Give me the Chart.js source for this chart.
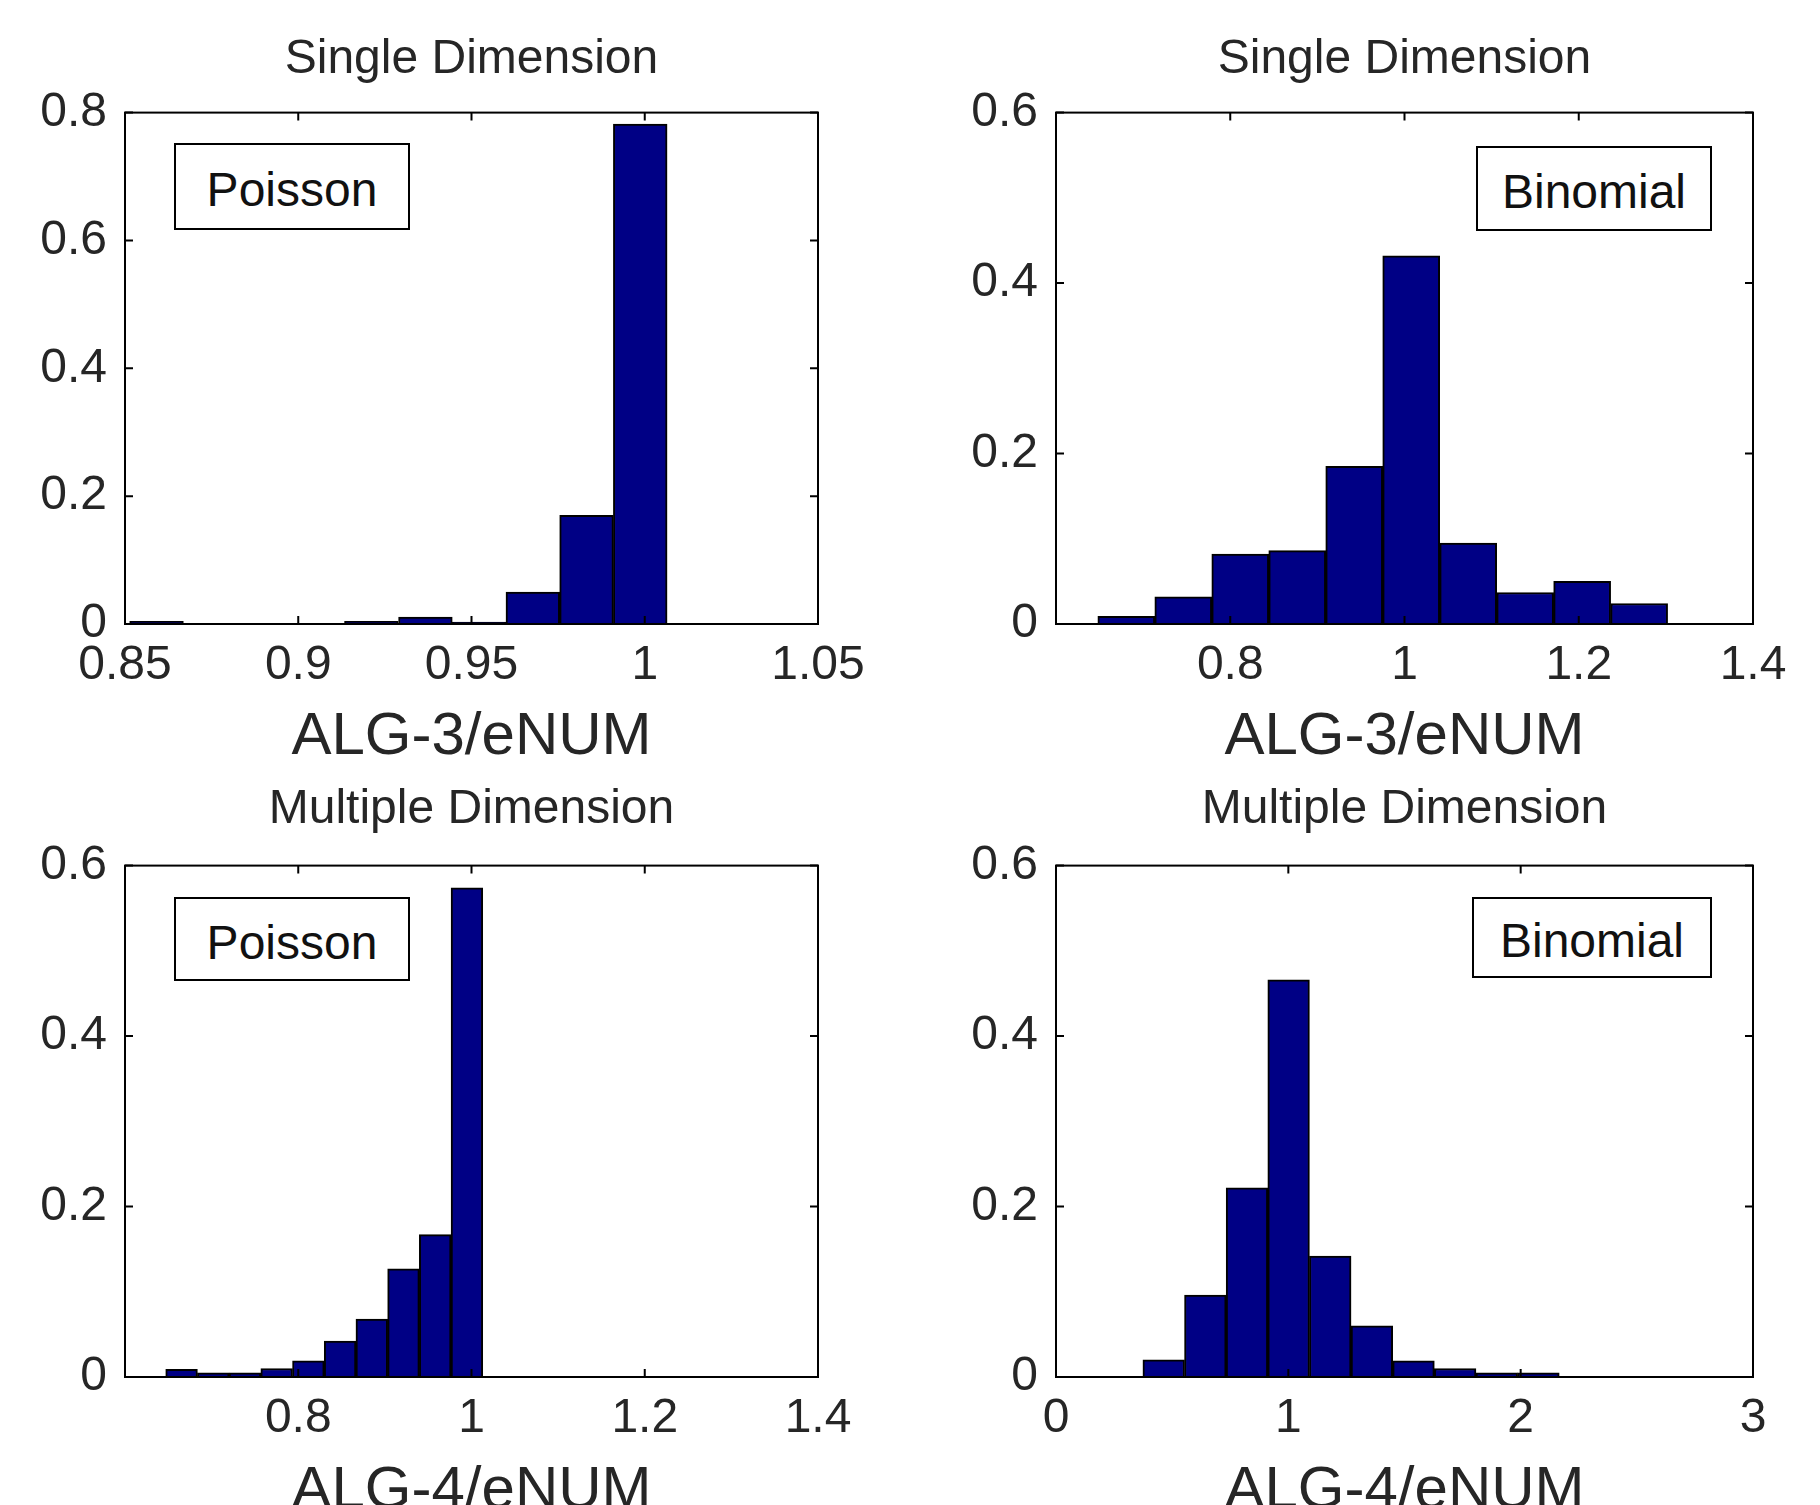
<!DOCTYPE html>
<html>
<head>
<meta charset="utf-8">
<title>ALG / eNUM histograms</title>
<script src="https://cdn.jsdelivr.net/npm/chart.js@4.4.1/dist/chart.umd.min.js"></script>
<style>
  html, body { margin: 0; padding: 0; background: #fff; overflow: hidden; }
  #page { position: relative; width: 1820px; height: 1505px; overflow: hidden; background: #fff; }
  .panel { position: absolute; }
  .panel canvas { display: block; }
  .legend-box {
    position: absolute;
    box-sizing: border-box;
    border: 2px solid #000;
    background: #fff;
    color: #111;
    font: 48px "Liberation Sans", Arial, sans-serif;
    padding-top: 6px;
    display: flex;
    align-items: center;
    justify-content: center;
  }
</style>
</head>
<body>
<div id="page">
  <div class="panel" style="left:0;top:0"><canvas id="c1" width="910" height="790"></canvas></div>
  <div class="panel" style="left:910px;top:0"><canvas id="c2" width="910" height="790"></canvas></div>
  <div class="panel" style="left:0;top:752px"><canvas id="c3" width="910" height="800"></canvas></div>
  <div class="panel" style="left:910px;top:752px"><canvas id="c4" width="910" height="800"></canvas></div>

  <div class="legend-box" style="left:174px;top:143px;width:236px;height:87px">Poisson</div>
  <div class="legend-box" style="left:1476px;top:146px;width:236px;height:85px">Binomial</div>
  <div class="legend-box" style="left:174px;top:897px;width:236px;height:84px">Poisson</div>
  <div class="legend-box" style="left:1472px;top:897px;width:240px;height:81px">Binomial</div>
</div>

<script>
// bin centres and relative frequencies
var p1Centers = [0.8591, 0.8746, 0.8901, 0.9056, 0.9211, 0.9367, 0.9522, 0.9677, 0.9832, 0.9987];
var p1Values = [0.004, 0, 0, 0, 0.004, 0.011, 0.003, 0.05, 0.17, 0.782];

var p2Centers = [0.6807, 0.7461, 0.8115, 0.8769, 0.9423, 1.0077, 1.0731, 1.1385, 1.2039, 1.2693];
var p2Values = [0.009, 0.032, 0.082, 0.086, 0.185, 0.432, 0.095, 0.037, 0.050, 0.024];

var p3Centers = [0.6653, 0.7019, 0.7385, 0.7751, 0.8117, 0.8483, 0.8849, 0.9215, 0.9581, 0.9947];
var p3Values = [0.009, 0.005, 0.005, 0.010, 0.019, 0.042, 0.068, 0.127, 0.167, 0.574];

var p4Centers = [0.4636, 0.6428, 0.8220, 1.0012, 1.1804, 1.3596, 1.5388, 1.7180, 1.8972, 2.0764];
var p4Values = [0.020, 0.096, 0.222, 0.466, 0.142, 0.060, 0.019, 0.010, 0.005, 0.005];

var p1XTicks = { min: 0.85, max: 1.05, step: 0.05 };
var p2XTicks = { min: 0.6, max: 1.4, step: 0.2 };
var p3XTicks = { min: 0.6, max: 1.4, step: 0.2 };
var p4XTicks = { min: 0, max: 3, step: 1 };

var titles = ['Single Dimension', 'Single Dimension', 'Multiple Dimension', 'Multiple Dimension'];
var xTitles = ['ALG-3/eNUM', 'ALG-3/eNUM', 'ALG-4/eNUM', 'ALG-4/eNUM'];

(function () {
  var FONT = '"Liberation Sans", Arial, sans-serif';
  var TEXT = '#262626';
  var BAR_FILL = '#000085';
  var TICK = 8;

  function fmt(v) {
    return String(parseFloat(Number(v).toFixed(3)));
  }

  // matlab style box with inward ticks on all four sides
  var framePlugin = {
    id: 'matlabFrame',
    afterDatasetsDraw: function (chart) {
      var a = chart.chartArea;
      var ctx = chart.ctx;
      var xs = chart.scales.x;
      var ys = chart.scales.y;
      ctx.save();
      ctx.strokeStyle = '#000';
      ctx.lineWidth = 2;
      ctx.strokeRect(a.left, a.top, a.right - a.left, a.bottom - a.top);
      ctx.beginPath();
      xs.ticks.forEach(function (t) {
        var px = xs.getPixelForValue(t.value);
        ctx.moveTo(px, a.bottom);
        ctx.lineTo(px, a.bottom - TICK);
        ctx.moveTo(px, a.top);
        ctx.lineTo(px, a.top + TICK);
      });
      ys.ticks.forEach(function (t) {
        var py = ys.getPixelForValue(t.value);
        ctx.moveTo(a.left, py);
        ctx.lineTo(a.left + TICK, py);
        ctx.moveTo(a.right, py);
        ctx.lineTo(a.right - TICK, py);
      });
      ctx.stroke();
      ctx.restore();
    }
  };

  function makeHist(id, o) {
    var points = o.centers.map(function (c, i) {
      return { x: c, y: o.values[i] };
    });

    new Chart(document.getElementById(id), {
      type: 'bar',
      data: {
        datasets: [{
          data: points,
          backgroundColor: BAR_FILL,
          borderColor: '#000',
          borderWidth: 2,
          barPercentage: 1,
          categoryPercentage: 1
        }]
      },
      options: {
        responsive: false,
        animation: false,
        layout: {
          padding: { left: 0, right: o.padRight, top: 0, bottom: 0 }
        },
        plugins: {
          legend: { display: false },
          tooltip: { enabled: false },
          title: {
            display: true,
            text: o.title,
            fullSize: false,
            color: TEXT,
            font: { family: FONT, size: 48, weight: 'normal', lineHeight: 1.2 },
            padding: { top: o.titleTop, bottom: o.titleBottom }
          }
        },
        scales: {
          x: {
            type: 'linear',
            min: o.xTicks.min,
            max: o.xTicks.max,
            offset: false,
            grid: { display: false, drawTicks: false, offset: false },
            border: { display: false },
            ticks: {
              stepSize: o.xTicks.step,
              autoSkip: false,
              maxRotation: 0,
              padding: 13,
              color: TEXT,
              font: { family: FONT, size: 48 },
              callback: function (v) {
                if (o.hideFirstX && Math.abs(v - o.xTicks.min) < 1e-9) return '';
                return fmt(v);
              }
            },
            title: {
              display: true,
              text: o.xTitle,
              color: TEXT,
              font: { family: FONT, size: 60, lineHeight: 1.2 },
              padding: { top: 0, bottom: o.xTitleBottom }
            },
            afterFit: function (s) {
              s.height = o.xHeight;
            }
          },
          y: {
            min: 0,
            max: o.yMax,
            grid: { display: false, drawTicks: false },
            border: { display: false },
            ticks: {
              stepSize: 0.2,
              padding: 18,
              color: TEXT,
              font: { family: FONT, size: 48 },
              callback: function (v) {
                return fmt(v);
              }
            },
            afterFit: function (s) {
              s.width = o.yWidth;
            }
          }
        }
      },
      plugins: [framePlugin]
    });
  }

  function init() {
    if (typeof Chart === 'undefined') return;

    makeHist('c1', {
      centers: p1Centers, values: p1Values, xTicks: p1XTicks, yMax: 0.8,
      title: titles[0], xTitle: xTitles[0],
      padRight: 92, yWidth: 125, xHeight: 166, xTitleBottom: 17,
      titleTop: 31, titleBottom: 24
    });
    makeHist('c2', {
      centers: p2Centers, values: p2Values, xTicks: p2XTicks, yMax: 0.6, hideFirstX: true,
      title: titles[1], xTitle: xTitles[1],
      padRight: 67, yWidth: 146, xHeight: 166, xTitleBottom: 17,
      titleTop: 31, titleBottom: 24
    });
    makeHist('c3', {
      centers: p3Centers, values: p3Values, xTicks: p3XTicks, yMax: 0.6, hideFirstX: true,
      title: titles[2], xTitle: xTitles[2],
      padRight: 92, yWidth: 125, xHeight: 175, xTitleBottom: 25,
      titleTop: 29, titleBottom: 27
    });
    makeHist('c4', {
      centers: p4Centers, values: p4Values, xTicks: p4XTicks, yMax: 0.6,
      title: titles[3], xTitle: xTitles[3],
      padRight: 67, yWidth: 146, xHeight: 175, xTitleBottom: 25,
      titleTop: 29, titleBottom: 27
    });
  }

  if (document.readyState === 'loading') {
    document.addEventListener('DOMContentLoaded', init);
  } else {
    init();
  }
})();
</script>
</body>
</html>
